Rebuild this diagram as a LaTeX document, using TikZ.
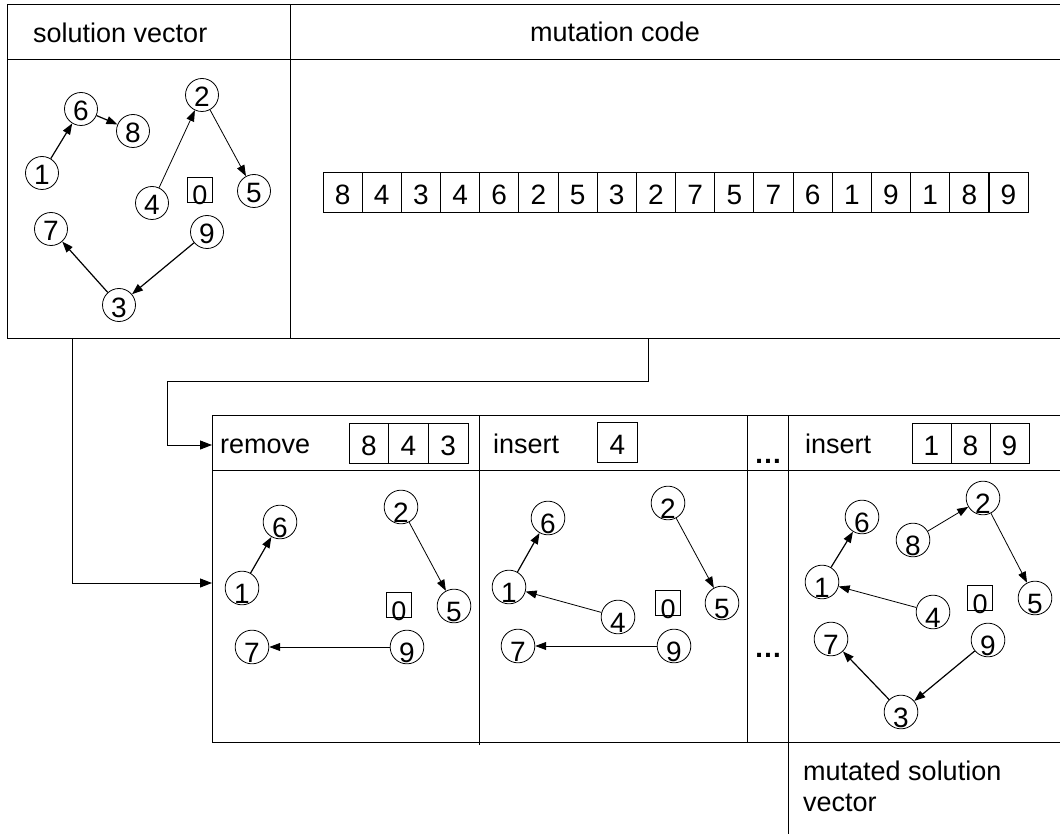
\documentclass[tikz,border=0pt]{standalone}
\usepackage{fontspec}
\setmainfont{Liberation Sans}
\usetikzlibrary{arrows.meta}
\begin{document}
\begin{tikzpicture}[x=1pt,y=-1pt,
  every node/.style={inner sep=0pt, font=\fontsize{27}{31}\selectfont},
  vtx/.style={circle, draw, minimum size=33pt, line width=0.8pt,
    font=\fontsize{28}{28}\selectfont, text height=24pt, text depth=0pt},
  lowvtx/.style={vtx, text height=30pt},
  zerobox/.style={draw, minimum size=25pt, line width=0.8pt,
    font=\fontsize{27}{27}\selectfont, text height=25pt, text depth=0pt},
  cell/.style={draw, minimum width=39.2pt, minimum height=40pt, line width=0.8pt,
    font=\fontsize{28}{28}\selectfont, text height=25pt, text depth=0pt},
  hcell/.style={cell, minimum width=39.5pt},
  edge/.style={line width=1.2pt, -{Triangle[length=11pt,width=8pt]}},
  thinedge/.style={line width=0.8pt, -{Triangle[length=11pt,width=8pt]}},
  link/.style={line width=1pt, -{Triangle[length=12pt,width=9pt]}},
  rule/.style={line width=1pt},
  lbl/.style={anchor=base west},
  dots/.style={anchor=base, font=\fontsize{28}{28}\selectfont\bfseries},
]
\useasboundingbox (0,0) rectangle (1060,834);

% ---------- upper table ----------
\draw[rule] (7,5) -- (1060,5);
\draw[rule] (7,60) -- (1060,60);
\draw[rule] (7,338) -- (1060,338);
\draw[rule] (7,5) -- (7,338);
\draw[rule] (290,5) -- (290,338);
\node[lbl] (svlabel) at (33,43) {solution vector};
\node[lbl] (mclabel) at (530,42) {mutation code};

% original solution vector
\node[vtx] (a6) at (81,109) {6};
\node[vtx] (a8) at (133,131) {8};
\node[vtx] (a1) at (42,173) {1};
\node[vtx] (a2) at (202,95) {2};
\node[vtx] (a5) at (254,191) {5};
\node[vtx] (a4) at (152,203) {4};
\node[zerobox] (a0) at (200,190) {\raisebox{-2pt}{0}};
\node[vtx] (a7) at (51,229) {7};
\node[vtx] (a9) at (207,232) {9};
\node[vtx] (a3) at (119,305) {3};
\draw[edge] (a1) -- (a6);
\draw[edge] (a6) -- (a8);
\draw[thinedge] (a4) -- (a2);
\draw[thinedge] (a2) -- (a5);
\draw[edge] (a9) -- (a3);
\draw[edge] (a3) -- (a7);

% mutation code
\foreach \d [count=\i] in {8,4,3,4,6,2,5,3,2,7,5,7,6,1,9,1,8,9}
  \node[cell] (m\i) at ({323+39.17*(\i-0.5)},192) {\d};

% ---------- lower table ----------
\draw[rule] (212,415) -- (1060,415);
\draw[rule] (212,470) -- (1060,470);
\draw[rule] (212,742) -- (1060,742);
\draw[rule] (212,415) -- (212,742);
\draw[rule] (479,415) -- (479,745);
\draw[rule] (747,415) -- (747,742);
\draw[rule] (788,415) -- (788,834);

\node[lbl] (rmlabel) at (220,453) {remove};
\node[hcell] (r1) at (368.8,443) {8};
\node[hcell] (r2) at (408.5,443) {4};
\node[hcell] (r3) at (448.2,443) {3};

\node[lbl] (inlabel) at (493,453) {insert};
\node[hcell] (i1) at (617.5,442) {4};

\node[dots] (dotstop) at (768,463) {\char"2026};
\node[dots] (dotsmid) at (768,657) {\char"2026};

\node[lbl] (inlabelb) at (805,453) {insert};
\node[hcell, minimum width=39pt] (k1) at (931.5,443) {1};
\node[hcell, minimum width=39pt] (k2) at (970.5,443) {8};
\node[hcell, minimum width=39pt] (k3) at (1009.5,443) {9};

\node[anchor=north west, align=left] (mutlabel) at (803,761)
  {mutated solution\\vector};

% after removing 8, 4, 3
\node[lowvtx] (b6) at (280,522) {6};
\node[lowvtx] (b1) at (242,588) {1};
\node[lowvtx] (b2) at (401,507) {2};
\node[lowvtx] (b5) at (454,606) {5};
\node[zerobox] (b0) at (399,605) {\raisebox{-3pt}{0}};
\node[lowvtx] (b7) at (252,647) {7};
\node[lowvtx] (b9) at (407,647) {9};
\draw[edge] (b1) -- (b6);
\draw[thinedge] (b2) -- (b5);
\draw[thinedge] (b9) -- (b7);

% after inserting 4
\node[lowvtx] (c6) at (548,518) {6};
\node[lowvtx] (c1) at (509,587) {1};
\node[lowvtx] (c2) at (668,503) {2};
\node[lowvtx] (c5) at (722,603) {5};
\node[lowvtx] (c4) at (618,617) {4};
\node[zerobox] (c0) at (668,603) {\raisebox{-3pt}{0}};
\node[lowvtx] (c7) at (518,646) {7};
\node[lowvtx] (c9) at (674,646) {9};
\draw[edge] (c1) -- (c6);
\draw[thinedge] (c2) -- (c5);
\draw[thinedge] (c4) -- (c1);
\draw[thinedge] (c9) -- (c7);

% mutated solution vector
\node[lowvtx] (d6) at (862,517) {6};
\node[lowvtx] (d8) at (913,540) {8};
\node[lowvtx] (d2) at (983,498) {2};
\node[lowvtx] (d1) at (822,582) {1};
\node[lowvtx] (d4) at (933,612) {4};
\node[zerobox] (d0) at (980,598) {\raisebox{-3pt}{0}};
\node[lowvtx] (d5) at (1035,598) {5};
\node[lowvtx] (d7) at (831,639) {7};
\node[lowvtx] (d9) at (988,640) {9};
\node[lowvtx] (d3) at (901,712) {3};
\draw[edge] (d1) -- (d6);
\draw[thinedge] (d8) -- (d2);
\draw[thinedge] (d2) -- (d5);
\draw[thinedge] (d4) -- (d1);
\draw[edge] (d9) -- (d3);
\draw[edge] (d3) -- (d7);

% ---------- connectors ----------
\coordinate (svout) at (72,338);
\coordinate (mcout) at (648,338);
\coordinate (graphin) at (212,583);
\coordinate (headin) at (212,445);
\draw[link] (svout) |- (graphin);
\draw[link] (mcout) -- (648,381) -| (167,445) -- (headin);
\end{tikzpicture}
\end{document}
